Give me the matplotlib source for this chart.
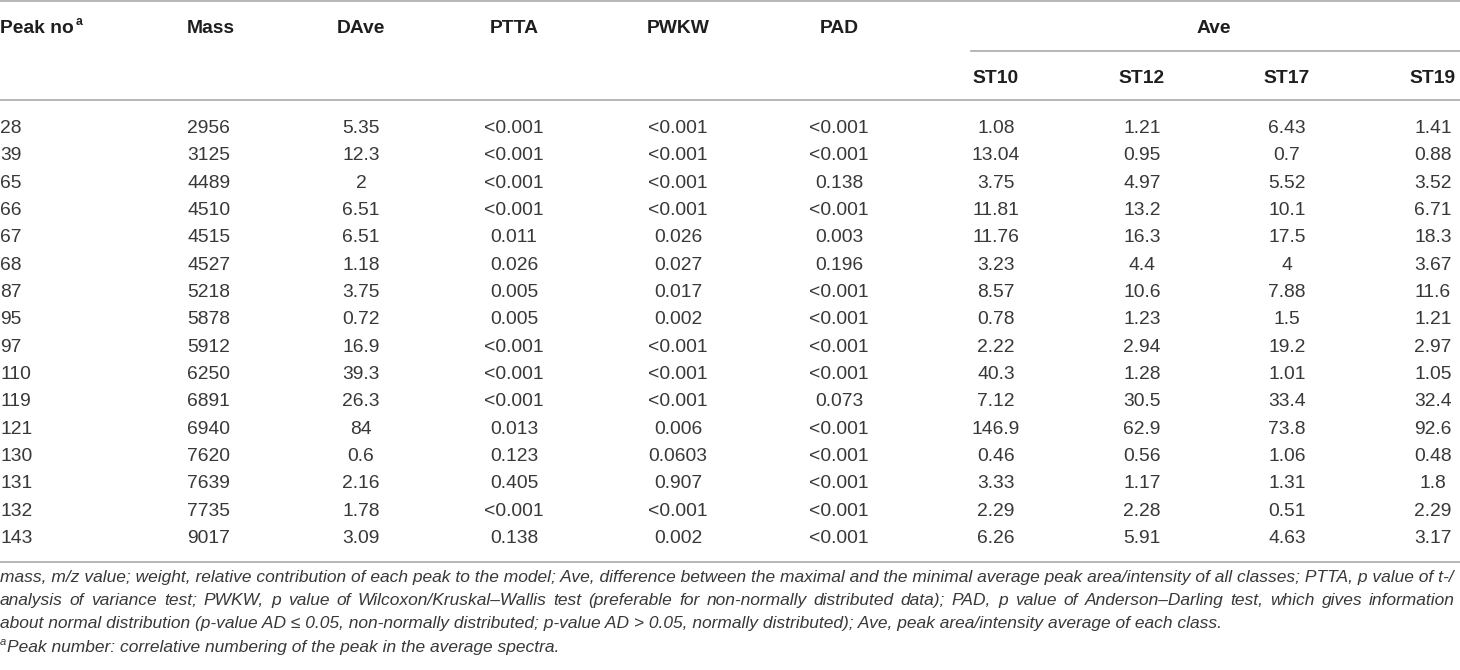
import matplotlib
matplotlib.use("Agg")
import matplotlib.pyplot as plt
from matplotlib import font_manager

peak_no = ["28", "39", "65", "66", "67", "68", "87", "95", "97", "110", "119", "121", "130", "131", "132", "143"]
mass = ["2956", "3125", "4489", "4510", "4515", "4527", "5218", "5878", "5912", "6250", "6891", "6940", "7620", "7639", "7735", "9017"]
dave = ["5.35", "12.3", "2", "6.51", "6.51", "1.18", "3.75", "0.72", "16.9", "39.3", "26.3", "84", "0.6", "2.16", "1.78", "3.09"]
ptta = ["<0.001", "<0.001", "<0.001", "<0.001", "0.011", "0.026", "0.005", "0.005", "<0.001", "<0.001", "<0.001", "0.013", "0.123", "0.405", "<0.001", "0.138"]
pwkw = ["<0.001", "<0.001", "<0.001", "<0.001", "0.026", "0.027", "0.017", "0.002", "<0.001", "<0.001", "<0.001", "0.006", "0.0603", "0.907", "<0.001", "0.002"]
pad = ["<0.001", "<0.001", "0.138", "<0.001", "0.003", "0.196", "<0.001", "<0.001", "<0.001", "<0.001", "0.073", "<0.001", "<0.001", "<0.001", "<0.001", "<0.001"]
st10 = ["1.08", "13.04", "3.75", "11.81", "11.76", "3.23", "8.57", "0.78", "2.22", "40.3", "7.12", "146.9", "0.46", "3.33", "2.29", "6.26"]
st12 = ["1.21", "0.95", "4.97", "13.2", "16.3", "4.4", "10.6", "1.23", "2.94", "1.28", "30.5", "62.9", "0.56", "1.17", "2.28", "5.91"]
st17 = ["6.43", "0.7", "5.52", "10.1", "17.5", "4", "7.88", "1.5", "19.2", "1.01", "33.4", "73.8", "1.06", "1.31", "0.51", "4.63"]
st19 = ["1.41", "0.88", "3.52", "6.71", "18.3", "3.67", "11.6", "1.21", "2.97", "1.05", "32.4", "92.6", "0.48", "1.8", "2.29", "3.17"]

headers = ["Mass", "DAve", "PTTA", "PWKW", "PAD"]
sub_headers = ["ST10", "ST12", "ST17", "ST19"]
group_header = "Ave"

footnotes = [
    "mass, m/z value; weight, relative contribution of each peak to the model; Ave, difference between the maximal and the minimal average peak area/intensity of all classes; PTTA, p value of t-/",
    "analysis of variance test; PWKW, p value of Wilcoxon/Kruskal\u2013Wallis test (preferable for non-normally distributed data); PAD, p value of Anderson\u2013Darling test, which gives information",
    "about normal distribution (p-value AD \u2264 0.05, non-normally distributed; p-value AD > 0.05, normally distributed); Ave, peak area/intensity average of each class.",
    "Peak number: correlative numbering of the peak in the average spectra.",
]


def pick_font(names):
    for name in names:
        try:
            font_manager.findfont(name, fallback_to_default=False)
            return name
        except Exception:
            pass
    return "DejaVu Sans"


main_font = pick_font(["Liberation Sans", "Roboto"])
note_font = pick_font(["Liberation Sans"])

text_col = "#383838"
head_col = "#1e1e1e"
rule_col = "#a3a3a3"
fs = 13.9

fig = plt.figure(figsize=(14.6, 6.7), dpi=100)
ax = fig.add_axes([0, 0, 1, 1])
ax.set_xlim(0, 1460)
ax.set_ylim(670, 0)
ax.axis("off")
renderer = fig.canvas.get_renderer()


def width_of(t):
    return t.get_window_extent(renderer).width


# horizontal rules
ax.plot([0, 1460], [1, 1], color=rule_col, lw=1.1)
ax.plot([971, 1460], [51, 51], color=rule_col, lw=1.1)
ax.plot([0, 1460], [100, 100], color=rule_col, lw=1.1)
ax.plot([0, 1460], [562, 562], color=rule_col, lw=1.1)

# header row
hdr = dict(fontsize=fs, fontweight="bold", color=head_col, family=[main_font, "DejaVu Sans"], va="baseline")
t = ax.text(0, 33, "Peak no", ha="left", **hdr)
ax.text(width_of(t) + 1.5, 25, "a", ha="left", fontsize=fs * 0.62, fontweight="bold", color=head_col,
        family=[main_font, "DejaVu Sans"], va="baseline")

col_x = [187, 361, 514, 678, 839]
col_ha = ["left", "center", "center", "center", "center"]
for h, x, ha in zip(headers, col_x, col_ha):
    ax.text(x, 33, h, ha=ha, **hdr)
ax.text(1214, 33, group_header, ha="center", **hdr)

st_x = [996, 1142, 1287, 1433]
for h, x in zip(sub_headers, st_x):
    ax.text(x, 83, h, ha="center", **hdr)

# body rows
body = dict(fontsize=fs, color=text_col, family=[main_font, "DejaVu Sans"], va="baseline")
columns = [peak_no, mass, dave, ptta, pwkw, pad, st10, st12, st17, st19]
xs = [0] + col_x + st_x
has = ["left"] + col_ha + ["center"] * 4
first_base, last_base = 133, 543
row_step = (last_base - first_base) / (len(peak_no) - 1)
for i in range(len(peak_no)):
    y = first_base + i * row_step
    for col, x, ha in zip(columns, xs, has):
        ax.text(x, y, col[i], ha=ha, **body)

# footnotes: size from the first line, second line justified to full width
note = dict(color=text_col, family=[note_font, "DejaVu Sans"], style="italic", va="baseline", ha="left")
probe = ax.text(0, -100, footnotes[0], fontsize=12, **note)
nfs = 12 * 1455 / width_of(probe)
probe.remove()


def justified(txt, y, right=1455):
    words = txt.split(" ")
    items = [ax.text(0, y, w, fontsize=nfs, **note) for w in words]
    widths = [width_of(it) for it in items]
    gap = (right - sum(widths)) / (len(words) - 1)
    x = 0
    for it, w in zip(items, widths):
        it.set_x(x)
        x += w + gap


ax.text(0, 582, footnotes[0], fontsize=nfs, **note)
justified(footnotes[1], 605)
ax.text(0, 628, footnotes[2], fontsize=nfs, **note)
ax.text(0, 645, "a", fontsize=nfs * 0.65, **note)
ax.text(7, 652, footnotes[3], fontsize=nfs, **note)

fig.savefig("out.png", dpi=100)
